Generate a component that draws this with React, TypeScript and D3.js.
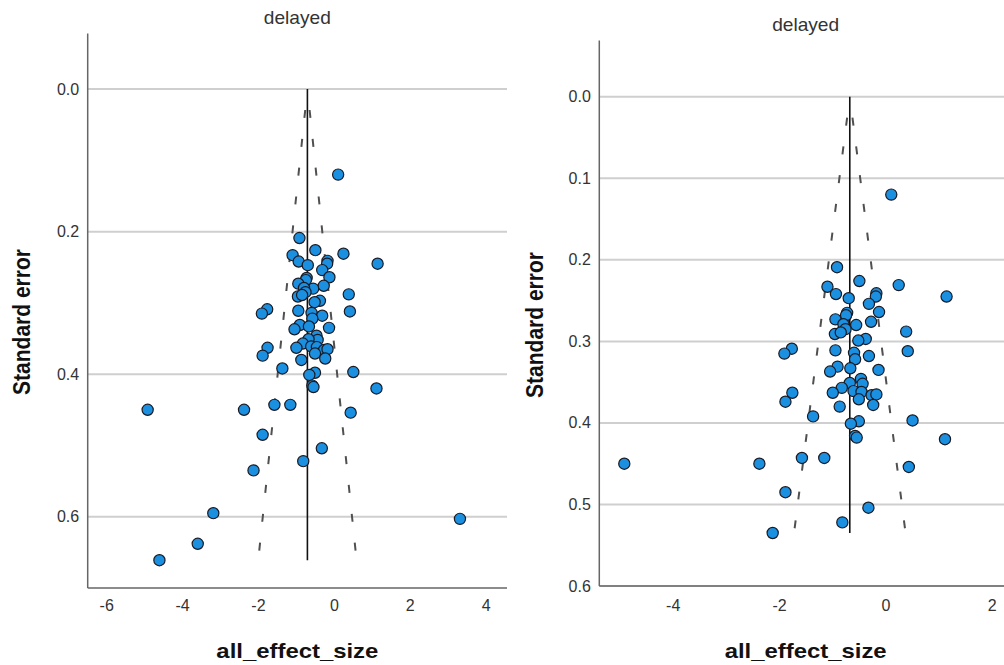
import React from 'react';
import * as d3 from 'd3';

// ---- data ----
const effectSizes = [
  0.10, -0.92, -0.50, 0.24, -1.10, -0.94, -0.70, -0.18, -0.19, 1.14,
  -0.32, -0.13, -0.73, -0.75, -0.95, -0.28, -0.56, -0.80, -0.76, 0.38,
  -0.96, -0.85, -0.38, -0.52, -1.77, -1.91, -0.95, 0.41, -0.60, -0.32,
  -0.58, -0.91, -0.67, -1.05, -0.14, -0.47, -0.44, -0.68, -0.83, -1.76,
  -1.00, -0.61, -0.46, -0.27, -0.18, -0.51, -1.89, -0.24, -0.87, -1.37,
  0.50, -0.51, -0.66, -0.58, -0.55, 1.11, -4.92, -2.38, -1.58, -1.16,
  0.43, -1.89, -0.33, -0.82, -2.13,
];
const standardErrors = [
  0.120, 0.209, 0.226, 0.231, 0.233, 0.242, 0.247, 0.241, 0.245, 0.245,
  0.254, 0.264, 0.265, 0.268, 0.273, 0.276, 0.280, 0.279, 0.285, 0.288,
  0.291, 0.289, 0.297, 0.299, 0.309, 0.315, 0.311, 0.312, 0.314, 0.318,
  0.322, 0.331, 0.333, 0.337, 0.335, 0.346, 0.352, 0.351, 0.357, 0.363,
  0.363, 0.361, 0.362, 0.366, 0.365, 0.371, 0.374, 0.378, 0.380, 0.392,
  0.397, 0.398, 0.401, 0.416, 0.418, 0.420, 0.450, 0.450, 0.443, 0.443,
  0.454, 0.485, 0.504, 0.522, 0.535,
];
// studies only shown in the left panel
const extraEffectSizes = [-3.19, 3.31, -3.60, -4.61];
const extraStandardErrors = [0.595, 0.603, 0.638, 0.661];

const pooledEffects = [-0.71, -0.68];
const panelTitles = ['delayed', 'delayed'];
const leftXTicks = [-6, -4, -2, 0, 2, 4];
const leftYTicks = [0, 0.2, 0.4, 0.6];
const rightXTicks = [-4, -2, 0, 2];
const rightYTicks = [0, 0.1, 0.2, 0.3, 0.4, 0.5, 0.6];
const xAxisTitle = 'all_effect_size';
const yAxisTitle = 'Standard error';

type Layout = {
  x0: number; x1: number; y0: number; y1: number;
  xDomain: [number, number]; yDomain: [number, number];
  titleY: number; yLabelX: number; yLabelY: number;
};

const FONT = "'Liberation Sans', Arial, sans-serif";

function Panel({ layout, title, xs, ses, mean, xTicks, yTicks }: {
  layout: Layout; title: string; xs: number[]; ses: number[]; mean: number;
  xTicks: number[]; yTicks: number[];
}) {
  const x = d3.scaleLinear().domain(layout.xDomain).range([layout.x0, layout.x1]);
  const y = d3.scaleLinear().domain(layout.yDomain).range([layout.y0, layout.y1]);
  const seMax = d3.max(ses) as number;
  const fmt = d3.format('.1f');
  const line = d3.line<[number, number]>().x(d => x(d[0])).y(d => y(d[1]));
  const lower = line([[mean, 0], [mean - 1.96 * seMax, seMax]]) as string;
  const upper = line([[mean, 0], [mean + 1.96 * seMax, seMax]]) as string;
  const cx = (layout.x0 + layout.x1) / 2;
  return (
    <g>
      <text x={cx} y={layout.titleY} textAnchor="middle" dominantBaseline="central"
        fontFamily={FONT} fontSize={19} fill="#333" textLength={67} lengthAdjust="spacingAndGlyphs">{title}</text>
      {yTicks.map(t => (
        <line key={'g' + t} x1={layout.x0} x2={layout.x1} y1={y(t)} y2={y(t)} stroke="#cfcfcf" strokeWidth={2} />
      ))}
      {yTicks.map(t => (
        <text key={'yt' + t} x={layout.x0 - 8.5} y={y(t)} textAnchor="end" dominantBaseline="central"
          fontFamily={FONT} fontSize={16} fill="#333">{fmt(t)}</text>
      ))}
      {xTicks.map(t => (
        <text key={'xt' + t} x={x(t)} y={605} textAnchor="middle" dominantBaseline="central"
          fontFamily={FONT} fontSize={16} fill="#333">{t}</text>
      ))}
      <line x1={layout.x0} x2={layout.x0} y1={layout.y0} y2={layout.y1} stroke="#666" strokeWidth={1.5} />
      <line x1={layout.x0} x2={layout.x1} y1={layout.y1} y2={layout.y1} stroke="#666" strokeWidth={1.5} />
      <path d={lower} fill="none" stroke="#505050" strokeWidth={2} strokeDasharray="8 21" strokeDashoffset={8} />
      <path d={upper} fill="none" stroke="#505050" strokeWidth={2} strokeDasharray="8 21" strokeDashoffset={8} />
      <line x1={x(mean)} x2={x(mean)} y1={y(0)} y2={y(seMax)} stroke="#111" strokeWidth={1.6} />
      {xs.map((v, i) => (
        <circle key={i} cx={x(v)} cy={y(ses[i])} r={5.6} fill="#1b8fe0" stroke="#1a1a22" strokeWidth={1.2} />
      ))}
      <text x={cx} y={650} textAnchor="middle" dominantBaseline="central" fontFamily={FONT}
        fontWeight="bold" fontSize={21} fill="#111" textLength={162} lengthAdjust="spacingAndGlyphs">{xAxisTitle}</text>
      <text transform={`translate(${layout.yLabelX},${layout.yLabelY}) rotate(-90)`} textAnchor="middle"
        dominantBaseline="central" fontFamily={FONT} fontWeight="bold" fontSize={23} fill="#111"
        textLength={146} lengthAdjust="spacingAndGlyphs">{yAxisTitle}</text>
    </g>
  );
}

export default function App() {
  const leftLayout: Layout = {
    x0: 87.7, x1: 507, y0: 33.5, y1: 588,
    xDomain: [-6.5, 4.55], yDomain: [-0.078, 0.7],
    titleY: 17, yLabelX: 22, yLabelY: 322,
  };
  const rightLayout: Layout = {
    x0: 599.3, x1: 1012, y0: 40.5, y1: 586,
    xDomain: [-5.39, 2.37], yDomain: [-0.069, 0.6],
    titleY: 24, yLabelX: 535, yLabelY: 325,
  };
  const leftXs = effectSizes.concat(extraEffectSizes);
  const leftSes = standardErrors.concat(extraStandardErrors);
  return (
    <svg width={1004} height={665} style={{ position: 'absolute', left: 0, top: 0, background: '#fff' }}>
      <rect width={1004} height={665} fill="#fff" />
      <Panel layout={leftLayout} title={panelTitles[0]} xs={leftXs} ses={leftSes} mean={pooledEffects[0]}
        xTicks={leftXTicks} yTicks={leftYTicks} />
      <Panel layout={rightLayout} title={panelTitles[1]} xs={effectSizes} ses={standardErrors} mean={pooledEffects[1]}
        xTicks={rightXTicks} yTicks={rightYTicks} />
    </svg>
  );
}
